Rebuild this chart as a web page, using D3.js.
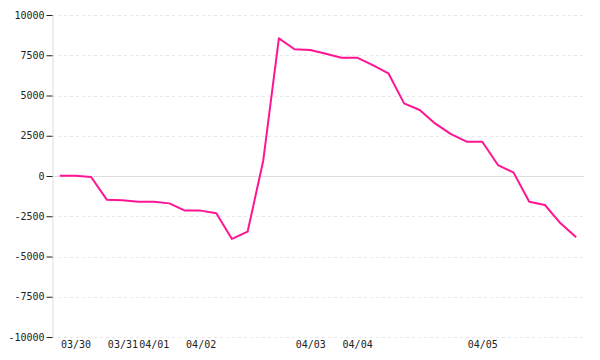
<!DOCTYPE html>
<html>
<head>
<meta charset="utf-8">
<script src="https://cdn.jsdelivr.net/npm/d3@7"></script>
<style>
  body { margin: 0; background: #fff; }
  svg { display: block; }
  .tick text { font-family: "DejaVu Sans Mono", monospace; font-size: 10px; fill: #222; }
</style>
</head>
<body>
<svg id="chart"></svg>
<script>
// series values, one per sample
const values = [20, 20, -60, -1470, -1500, -1600, -1600, -1700, -2150, -2150,
  -2320, -3910, -3460, 950, 8550, 7870, 7830, 7590, 7350, 7350,
  6890, 6380, 4510, 4100, 3250, 2600, 2130, 2130, 680, 210,
  -1600, -1800, -2940, -3810];

// which samples carry a date label
const tickIndex = [1, 4, 6, 9, 16, 19, 27];
const tickLabels = ["03/30", "03/31", "04/01", "04/02", "04/03", "04/04", "04/05"];

const yTicks = [-10000, -7500, -5000, -2500, 0, 2500, 5000, 7500, 10000];

const w = 600, h = 360;
const mLeft = 52, mRight = 584, mTop = 15, mBottom = 337;

const svg = d3.select("#chart").attr("width", w).attr("height", h);

const x = d3.scalePoint()
  .domain(d3.range(values.length))
  .range([mLeft, mRight])
  .padding(0.5);

const y = d3.scaleLinear()
  .domain([-10000, 10000])
  .range([mBottom, mTop]);

// grid
svg.append("g")
  .selectAll("line")
  .data(yTicks)
  .join("line")
    .attr("x1", mLeft)
    .attr("x2", mRight)
    .attr("y1", d => Math.round(y(d)) + 0.5)
    .attr("y2", d => Math.round(y(d)) + 0.5)
    .attr("stroke", d => d === 0 ? "#ddd" : "#e8e8e8")
    .attr("stroke-dasharray", d => d === 0 ? null : "3,3");

// y axis
const yAxis = d3.axisLeft(y)
  .tickValues(yTicks)
  .tickFormat(d => String(d))
  .tickSize(6)
  .tickSizeOuter(0)
  .tickPadding(2);

const gy = svg.append("g")
  .attr("transform", `translate(${mLeft + 0.5},0)`)
  .call(yAxis);
gy.select(".domain").attr("stroke", "#ddd");
gy.selectAll(".tick line").attr("stroke", "#222");

// x axis, labels only
const labelByIndex = new Map(tickIndex.map((d, i) => [d, tickLabels[i]]));
const xAxis = d3.axisBottom(x)
  .tickValues(tickIndex)
  .tickFormat(d => labelByIndex.get(d))
  .tickSize(0)
  .tickPadding(4);

const gx = svg.append("g")
  .attr("transform", `translate(0,${mBottom})`)
  .call(xAxis);
gx.select(".domain").remove();

// line
const line = d3.line()
  .x((d, i) => x(i))
  .y(d => y(d));

svg.append("path")
  .datum(values)
  .attr("d", line)
  .attr("fill", "none")
  .attr("stroke", "#ff1493")
  .attr("stroke-width", 2)
  .attr("stroke-linejoin", "round");
</script>
</body>
</html>
